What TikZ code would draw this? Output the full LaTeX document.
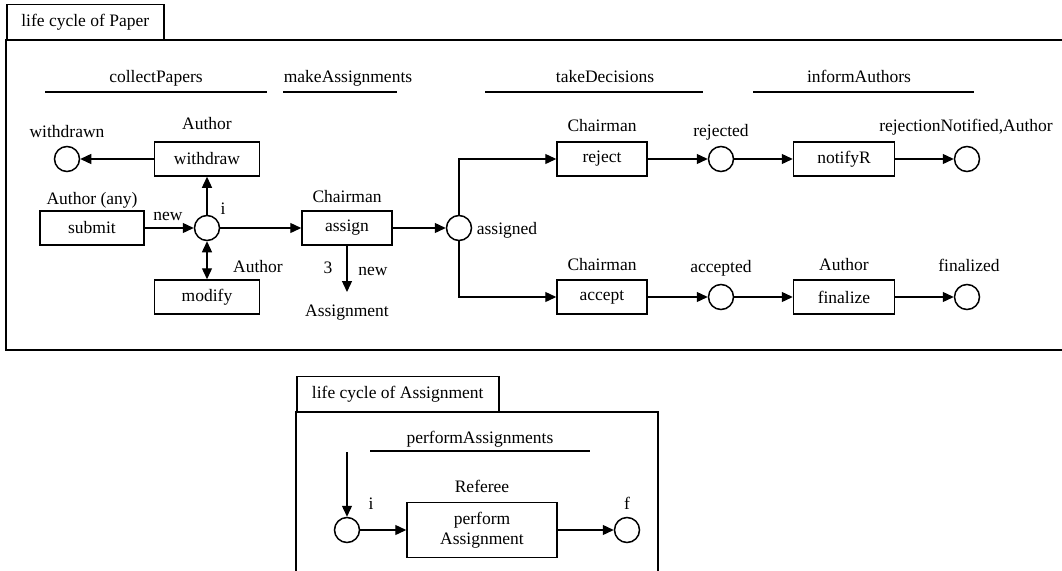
\documentclass[tikz,border=0pt]{standalone}
\usepackage{fontspec}
\setmainfont{Liberation Serif}
\usetikzlibrary{arrows.meta, positioning}

\begin{document}
\begin{tikzpicture}[x=1pt, y=-1pt,
    every node/.style={font=\fontsize{17.5}{20}\selectfont},
    frame/.style={draw, line width=1.5pt},
    tab/.style={rectangle, draw, line width=1.5pt, minimum height=35pt, anchor=south west, inner sep=0pt},
    activity/.style={rectangle, draw, line width=1.5pt, minimum height=34pt, align=center, inner sep=2pt},
    place/.style={circle, draw, line width=1.5pt, minimum size=25pt, inner sep=0pt},
    tag/.style={inner sep=0pt, text height=12pt, text depth=0pt},
    flow/.style={-{Triangle[length=11pt,width=10pt]}, line width=1.3pt},
    both/.style={{Triangle[length=11pt,width=10pt]}-{Triangle[length=11pt,width=10pt]}, line width=1.3pt},
    phaseline/.style={line width=1.5pt}
]
    \useasboundingbox (0,0) rectangle (1062,570);

    % life cycle of Paper
    \draw[frame] (6,40) rectangle (1070,350);
    \node[tab, minimum width=157pt] (paperTab) at (6,40) {life cycle of Paper};

    \node[tag] (collectPapers) at (156,76) {collectPapers};
    \node[tag] (makeAssignments) at (348,76) {makeAssignments};
    \node[tag] (takeDecisions) at (605,76) {takeDecisions};
    \node[tag] (informAuthors) at (859,76) {informAuthors};
    \draw[phaseline] (45,92) -- (267,92);
    \draw[phaseline] (283,92) -- (397,92);
    \draw[phaseline] (485,92) -- (703,92);
    \draw[phaseline] (753,92) -- (974,92);

    \node[place] (withdrawn) at (67,159) {};
    \node[activity, minimum width=105pt] (withdraw) at (207,159) {withdraw};
    \node[activity, minimum width=104pt] (submit) at (92,228) {submit};
    \node[place] (initial) at (207,228) {};
    \node[activity, minimum width=105pt] (modify) at (207,297) {modify};
    \node[activity, minimum width=90pt] (assign) at (347,228) {assign};
    \coordinate (newAssignment) at (347,292);
    \node[place] (assigned) at (459,228) {};
    \node[activity, minimum width=90pt] (reject) at (602,159) {reject};
    \node[activity, minimum width=90pt] (accept) at (602,297) {accept};
    \node[place] (rejected) at (721,159) {};
    \node[place] (accepted) at (721,297) {};
    \node[activity, minimum width=101pt] (notifyR) at (844,159) {notifyR};
    \node[activity, minimum width=101pt] (finalize) at (844,297) {finalize};
    \node[place] (rejectionNotified) at (967,159) {};
    \node[place] (finalized) at (967,297) {};

    \node[tag] (withdrawnLabel) at (67,131) {withdrawn};
    \node[tag] (withdrawRole) at (207,123) {Author};
    \node[tag] (submitRole) at (92,198) {Author (any)};
    \node[tag] (newLabel) at (168,214) {new};
    \node[tag] (initialLabel) at (223,208) {i};
    \node[tag] (modifyRole) at (258,266) {Author};
    \node[tag] (assignRole) at (347,196) {Chairman};
    \node[tag] (multLabel) at (328,267) {3};
    \node[tag] (newAssignLabel) at (373,269) {new};
    \node[tag] (assignmentLabel) at (347,310) {Assignment};
    \node[tag] (assignedLabel) at (507,228) {assigned};
    \node[tag] (rejectRole) at (602,125) {Chairman};
    \node[tag] (acceptRole) at (602,264) {Chairman};
    \node[tag] (rejectedLabel) at (721,130) {rejected};
    \node[tag] (acceptedLabel) at (721,266) {accepted};
    \node[tag] (notifiedLabel) at (966,125) {rejectionNotified,Author};
    \node[tag] (finalizeRole) at (844,264) {Author};
    \node[tag] (finalizedLabel) at (969,265) {finalized};

    \draw[flow] (withdraw) -- (withdrawn);
    \draw[flow] (submit) -- (initial);
    \draw[flow] (initial) -- (withdraw);
    \draw[both] (initial) -- (modify);
    \draw[flow] (initial) -- (assign);
    \draw[flow] (assign) -- (assigned);
    \draw[flow] (assign) -- (newAssignment);
    \draw[flow] (assigned) |- (reject);
    \draw[flow] (assigned) |- (accept);
    \draw[flow] (reject) -- (rejected);
    \draw[flow] (rejected) -- (notifyR);
    \draw[flow] (notifyR) -- (rejectionNotified);
    \draw[flow] (accept) -- (accepted);
    \draw[flow] (accepted) -- (finalize);
    \draw[flow] (finalize) -- (finalized);

    % life cycle of Assignment
    \draw[frame] (296,412) rectangle (658,580);
    \node[tab, minimum width=202pt] (assignmentTab) at (296,412) {life cycle of Assignment};

    \node[tag] (performAssignments) at (480,437) {performAssignments};
    \draw[phaseline] (370,451) -- (590,451);

    \coordinate (entry) at (347,452);
    \node[place] (start) at (347,530) {};
    \node[activity, minimum width=150pt, minimum height=55pt] (perform) at (482,530) {perform\\Assignment};
    \node[place] (final) at (627,530) {};

    \node[tag] (refereeRole) at (482,486) {Referee};
    \node[tag] (startLabel) at (371,503) {i};
    \node[tag] (finalLabel) at (627,503) {f};

    \draw[flow] (entry) -- (start);
    \draw[flow] (start) -- (perform);
    \draw[flow] (perform) -- (final);
\end{tikzpicture}
\end{document}
